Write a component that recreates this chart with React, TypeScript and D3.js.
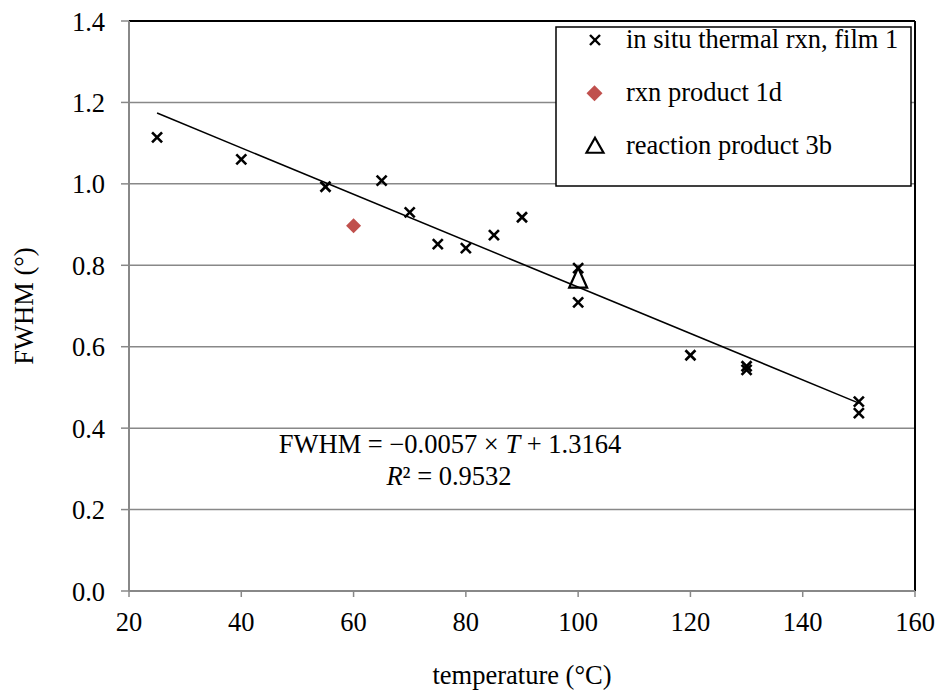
import React from "react";
import * as d3 from "d3";

const filmT = [25, 40, 55, 65, 70, 75, 80, 85, 90, 100, 100, 120, 130, 130, 150, 150];
const filmFWHM = [1.114, 1.06, 0.993, 1.008, 0.93, 0.852, 0.842, 0.874, 0.918, 0.793, 0.709, 0.579, 0.552, 0.543, 0.465, 0.437];
const product1dT = [60];
const product1dFWHM = [0.897];
const product3bT = [100];
const product3bFWHM = [0.767];
const trendSlope = -0.0057;
const trendIntercept = 1.3164;
const trendRange = [25, 150];
const xTicks = [20, 40, 60, 80, 100, 120, 140, 160];
const yTicks = [0, 0.2, 0.4, 0.6, 0.8, 1.0, 1.2, 1.4];
const legendLabels = ["in situ thermal rxn, film 1", "rxn product 1d", "reaction product 3b"];

const W = 940, H = 692;
const L = 129, R = 915, T = 21, B = 591;
const FONT = "'Liberation Serif', 'Times New Roman', serif";
const FS = 26.5;

function XMark({ x, y, s = 5, w = 2.6 }: { x: number; y: number; s?: number; w?: number }) {
  return (
    <g stroke="#000" strokeWidth={w}>
      <line x1={x - s} y1={y - s} x2={x + s} y2={y + s} />
      <line x1={x - s} y1={y + s} x2={x + s} y2={y - s} />
    </g>
  );
}
function Diamond({ x, y, s = 7.5 }: { x: number; y: number; s?: number }) {
  return <path d={`M${x},${y - s}L${x + s},${y}L${x},${y + s}L${x - s},${y}Z`} fill="#C0504D" />;
}
function Tri({ x, y, hw = 9, h = 20 }: { x: number; y: number; hw?: number; h?: number }) {
  return (
    <path
      d={`M${x},${y - h * 0.55}L${x + hw},${y + h * 0.45}L${x - hw},${y + h * 0.45}Z`}
      fill="none"
      stroke="#000"
      strokeWidth={2.2}
    />
  );
}

export default function App() {
  const xs = d3.scaleLinear().domain([20, 160]).range([L, R]);
  const ys = d3.scaleLinear().domain([0, 1.4]).range([B, T]);
  const trend = d3.line<number>().x((t) => xs(t)).y((t) => ys(trendSlope * t + trendIntercept));
  return (
    <svg width={W} height={H} style={{ position: "absolute", left: 0, top: 0 }} fontFamily={FONT}>
      <rect width={W} height={H} fill="#fff" />
      {yTicks.slice(1, -1).map((v) => (
        <line key={v} x1={L} x2={R} y1={ys(v)} y2={ys(v)} stroke="#888" strokeWidth={1.5} />
      ))}
      <line x1={L} x2={R} y1={T} y2={T} stroke="#000" strokeWidth={2} />
      <line x1={R} x2={R} y1={T} y2={B} stroke="#000" strokeWidth={2} />
      <line x1={L} x2={L} y1={T} y2={B} stroke="#888" strokeWidth={2} />
      <line x1={L} x2={R} y1={B} y2={B} stroke="#888" strokeWidth={2} />
      {yTicks.map((v) => (
        <g key={v}>
          <line x1={L - 8} x2={L} y1={ys(v)} y2={ys(v)} stroke="#888" strokeWidth={1.5} />
          <text x={L - 24} y={ys(v) + 9.5} textAnchor="end" fontSize={FS}>{v.toFixed(1)}</text>
        </g>
      ))}
      {xTicks.map((v) => (
        <g key={v}>
          <line x1={xs(v)} x2={xs(v)} y1={B} y2={B + 6} stroke="#888" strokeWidth={1.5} />
          <text x={xs(v)} y={B + 40} textAnchor="middle" fontSize={FS}>{v}</text>
        </g>
      ))}
      <text x={522} y={684} textAnchor="middle" fontSize={FS}>temperature (°C)</text>
      <text transform={`translate(33,${ys(0.7)}) rotate(-90)`} textAnchor="middle" fontSize={FS}>FWHM (°)</text>
      <path d={trend(trendRange) || ""} stroke="#000" strokeWidth={1.5} fill="none" />
      {filmT.map((t, i) => <XMark key={i} x={xs(t)} y={ys(filmFWHM[i])} />)}
      {product1dT.map((t, i) => <Diamond key={i} x={xs(t)} y={ys(product1dFWHM[i])} />)}
      {product3bT.map((t, i) => <Tri key={i} x={xs(t)} y={ys(product3bFWHM[i])} />)}
      <text x={450} y={453} textAnchor="middle" fontSize={FS}>
        FWHM = −0.0057 × <tspan fontStyle="italic">T</tspan> + 1.3164
      </text>
      <text x={449} y={485} textAnchor="middle" fontSize={FS}>
        <tspan fontStyle="italic">R</tspan>² = 0.9532
      </text>
      <rect x={556} y={27} width={355} height={159} fill="#fff" stroke="#000" strokeWidth={1.5} />
      <XMark x={595} y={40} s={5} w={2.4} />
      <Diamond x={594.5} y={93.3} s={8} />
      <Tri x={595} y={146} hw={8.5} h={15} />
      {legendLabels.map((lab, i) => (
        <text key={i} x={626} y={47.5 + i * 53} fontSize={FS}>{lab}</text>
      ))}
    </svg>
  );
}
